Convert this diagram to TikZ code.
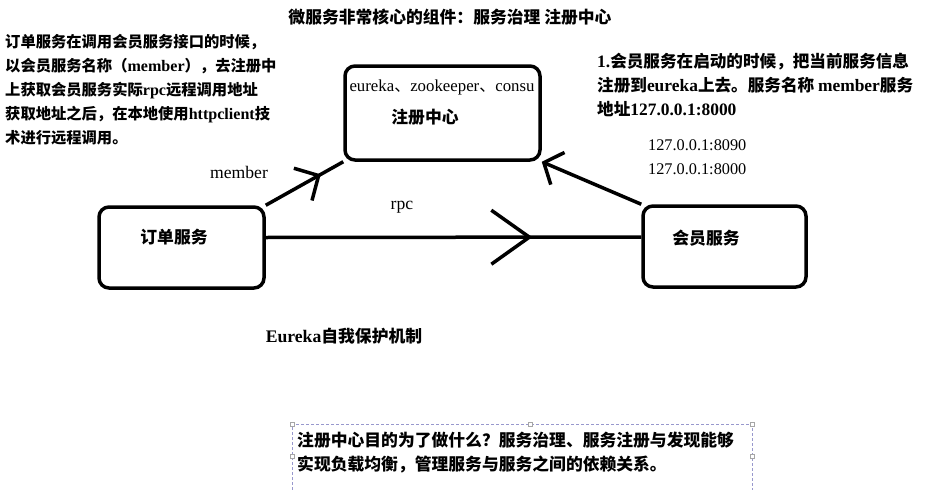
\documentclass[tikz,border=0pt]{standalone}
\usepackage{fontspec}
\setmainfont{Noto Sans CJK SC}
\newfontfamily\lat[Scale=1.05]{Liberation Serif}
\newcommand\en[1]{{\lat #1}}
\usetikzlibrary{arrows.meta,decorations.markings}

\begin{document}
\begin{tikzpicture}[x=1pt, y=-1pt,
blank/.style={inner sep=0pt, font=\bfseries\fontsize{16.8}{24}\selectfont},
plain/.style={inner sep=0pt, font=\lat\mdseries\fontsize{15.5}{24}\selectfont},
note/.style={blank, anchor=north west, align=left},
block/.style={rectangle, rounded corners=10pt, line width=3.5pt, draw=black, inner sep=0pt},
link/.style={line width=3.5pt},
mid-head/.style n args={3}{postaction={decorate}, decoration={markings,
  mark=at position #1 with {\arrow[line width=3.5pt]{Straight Barb[length=#2, width=#3]}}}},
frame-box/.style={draw=blue!35!gray!60, line width=0.8pt, dash pattern=on 3pt off 2pt},
handle/.style={rectangle, draw=gray!70, fill=white, line width=0.6pt, minimum size=4pt, inner sep=0pt}
]
\useasboundingbox (0,0) rectangle (930,490);

\node [blank] (title) at (450,17) {微服务非常核心的组件：服务治理 注册中心};

\node [note, font=\bfseries\fontsize{15.3}{24}\selectfont] (order-note) at (5,34) {订单服务在调用会员服务接口的时候，\\
以会员服务名称（\en{member}），去注册中\\
上获取会员服务实际\en{rpc}远程调用地址\\
获取地址之后，在本地使用\en{httpclient}技\\
术进行远程调用。};

\node [note, font=\bfseries\fontsize{16.6}{24}\selectfont] (member-note) at (597,53) {\en{1.}会员服务在启动的时候，把当前服务信息\\
注册到\en{eureka}上去。服务名称 \en{member}服务\\
地址\en{127.0.0.1:8000}};

\node [plain, anchor=north west, align=left] (ip-list) at (648,139) {127.0.0.1:8090\\127.0.0.1:8000};

% boxes
\node [block, minimum width=195pt, minimum height=94pt] (reg) at (442.5,113) {};
\node [block, minimum width=165pt, minimum height=81pt] (order) at (181.5,247.5) {};
\node [block, minimum width=163pt, minimum height=81pt] (member) at (724.5,246.5) {};

\node [blank, font=\mdseries\fontsize{16}{24}\selectfont] (reg-kinds) at (442,87) {\en{eureka}、\en{zookeeper}、\en{consu}};
\node [blank] (reg-name) at (425,117) {注册中心};
\node [blank] (order-name) at (174,237) {订单服务};
\node [blank] (member-name) at (706,238) {会员服务};

% links
\draw [link, mid-head={0.71}{18pt}{37pt}] (order.north east) -- (reg.south west);
\draw [link, -{Straight Barb[length=15pt, width=35pt]}] (member.north west) -- (reg.south east);
\draw [link, mid-head={0.71}{38pt}{54pt}] ([yshift=10pt]order.east) -- ([yshift=9.5pt]member.west);

\node [plain, font=\lat\mdseries\fontsize{16.8}{24}\selectfont] (get-label) at (239,172) {member};
\node [plain, font=\lat\mdseries\fontsize{16.8}{24}\selectfont] (rpc-label) at (402,207) {rpc};

\node [blank] (protect) at (344,336) {\en{Eureka}自我保护机制};

% text frame
\coordinate (f-tl) at (292,424);
\coordinate (f-tr) at (752,424);
\draw [frame-box] (292,495) -- (f-tl) -- (f-tr) -- (752,495);
\foreach \p in {(292,424),(530,424),(752,424),(292,456),(752,456)}
  \node [handle] at \p {};

\node [note] (question) at (297,432) {注册中心目的为了做什么？服务治理、服务注册与发现能够\\
实现负载均衡，管理服务与服务之间的依赖关系。};

\end{tikzpicture}
\end{document}
